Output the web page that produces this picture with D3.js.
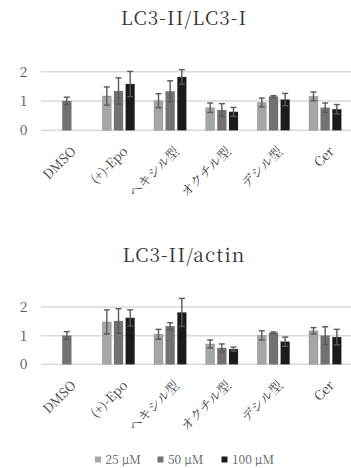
<!DOCTYPE html>
<html>
<head>
<meta charset="utf-8">
<script src="https://cdn.jsdelivr.net/npm/d3@7"></script>
<style>
  body { margin: 0; background: #fff; }
  svg { display: block; }
  svg text { font-family: "Noto Serif CJK JP", "Liberation Serif", serif; }
</style>
</head>
<body>
<div id="chart"></div>
<script>
// categories and series
const categories = ['DMSO', '(+)-Epo', 'ヘキシル型', 'オクチル型', 'デシル型', 'Cer'];
const series = ['25 µM', '50 µM', '100 µM'];
const colors = ['#a5a5a5', '#767171', '#1b1b1b'];

// LC3-II/LC3-I  (null = no bar)
const ratioI25 = [null, 1.17, 1.01, 0.77, 0.95, 1.16];
const ratioI50 = [1.0, 1.34, 1.33, 0.69, 1.15, 0.77];
const ratioI100 = [null, 1.58, 1.82, 0.63, 1.05, 0.72];
const ratioIErr25 = [null, 0.31, 0.24, 0.16, 0.15, 0.15];
const ratioIErr50 = [0.13, 0.45, 0.36, 0.22, 0.03, 0.16];
const ratioIErr100 = [null, 0.43, 0.25, 0.15, 0.21, 0.16];

// LC3-II/actin
const actin25 = [null, 1.48, 1.05, 0.71, 1.01, 1.17];
const actin50 = [1.0, 1.51, 1.33, 0.57, 1.10, 1.0];
const actin100 = [null, 1.62, 1.81, 0.53, 0.79, 0.95];
const actinErr25 = [null, 0.42, 0.17, 0.14, 0.16, 0.11];
const actinErr50 = [0.14, 0.43, 0.12, 0.14, 0.03, 0.31];
const actinErr100 = [null, 0.28, 0.49, 0.07, 0.16, 0.27];

const yTicks = [0, 1, 2];

let width = 351,
  height = 468;

const svg = d3
  .select('#chart')
  .append('svg')
  .attr('width', width)
  .attr('height', height);

const x0 = d3.scaleBand().domain(categories).range([41, 351]);
const x1 = d3
  .scaleBand()
  .domain(series)
  .range([x0.bandwidth() * 0.187, x0.bandwidth() * 0.813])
  .paddingInner(0.23);
const color = d3.scaleOrdinal(series, colors);

const drawPanel = (title, titleY, yRange, vals, errs) => {
  const y = d3.scaleLinear().domain([0, 2]).range(yRange);
  const g = svg.append('g');

  g.append('text')
    .attr('x', 184)
    .attr('y', titleY)
    .attr('text-anchor', 'middle')
    .style('font-size', '19px')
    .style('letter-spacing', '1.1px')
    .attr('fill', '#333')
    .text(title);

  // gridlines + tick labels
  g.selectAll('line.grid')
    .data(yTicks)
    .join('line')
    .attr('class', 'grid')
    .attr('x1', 41)
    .attr('x2', 351)
    .attr('y1', (d) => y(d))
    .attr('y2', (d) => y(d))
    .attr('stroke', '#d9d9d9')
    .attr('stroke-width', 1.5);

  g.selectAll('text.tick')
    .data(yTicks)
    .join('text')
    .attr('class', 'tick')
    .attr('x', 27.5)
    .attr('y', (d) => y(d))
    .attr('dy', '0.35em')
    .attr('text-anchor', 'end')
    .style('font-size', '14px')
    .attr('fill', '#595959')
    .text((d) => d);

  const rows = [];
  categories.forEach((c, i) => {
    series.forEach((s, j) => {
      if (vals[j][i] != null) rows.push({ c, s, v: vals[j][i], e: errs[j][i] });
    });
  });

  const bx = (d) => x0(d.c) + x1(d.s);

  g.selectAll('rect')
    .data(rows)
    .join('rect')
    .attr('x', bx)
    .attr('y', (d) => y(d.v))
    .attr('width', x1.bandwidth())
    .attr('height', (d) => y(0) - y(d.v))
    .attr('fill', (d) => color(d.s))
    .attr('stroke', '#555')
    .attr('stroke-opacity', 0.35)
    .attr('stroke-width', 0.6);

  const eb = g
    .selectAll('g.err')
    .data(rows)
    .join('g')
    .attr('class', 'err')
    .attr('stroke', '#595959')
    .attr('stroke-width', 1.4);
  const cx = (d) => bx(d) + x1.bandwidth() / 2;
  eb.append('line')
    .attr('x1', cx)
    .attr('x2', cx)
    .attr('y1', (d) => y(d.v - d.e))
    .attr('y2', (d) => y(d.v + d.e));
  [1, -1].forEach((sgn) => {
    eb.append('line')
      .attr('x1', (d) => cx(d) - 3)
      .attr('x2', (d) => cx(d) + 3)
      .attr('y1', (d) => y(d.v + sgn * d.e))
      .attr('y2', (d) => y(d.v + sgn * d.e));
  });

  // rotated category labels
  g.selectAll('text.cat')
    .data(categories)
    .join('text')
    .attr('class', 'cat')
    .attr(
      'transform',
      (d) => `translate(${x0(d) + x0.bandwidth() / 2 + 3},${y(0) + 15}) rotate(-45)`
    )
    .attr('text-anchor', 'end')
    .attr('dy', '0.75em')
    .style('font-size', '13px')
    .attr('fill', '#404040')
    .text((d) => d);
};

drawPanel('LC3-II/LC3-I', 24.5, [130.3, 71.7],
  [ratioI25, ratioI50, ratioI100], [ratioIErr25, ratioIErr50, ratioIErr100]);
drawPanel('LC3-II/actin', 262, [364.3, 307],
  [actin25, actin50, actin100], [actinErr25, actinErr50, actinErr100]);

// legend
const legendX = [95, 157.5, 221.5];
const legend = svg
  .append('g')
  .selectAll('g')
  .data(series)
  .join('g')
  .attr('transform', (d, i) => `translate(${legendX[i]},459.5)`);
legend
  .append('rect')
  .attr('x', 0)
  .attr('y', -3)
  .attr('width', 6)
  .attr('height', 6)
  .attr('fill', (d) => color(d));
legend
  .append('text')
  .attr('x', 10.5)
  .attr('dy', '0.35em')
  .style('font-size', '12px')
  .attr('fill', '#595959')
  .text((d) => d);
</script>
</body>
</html>
